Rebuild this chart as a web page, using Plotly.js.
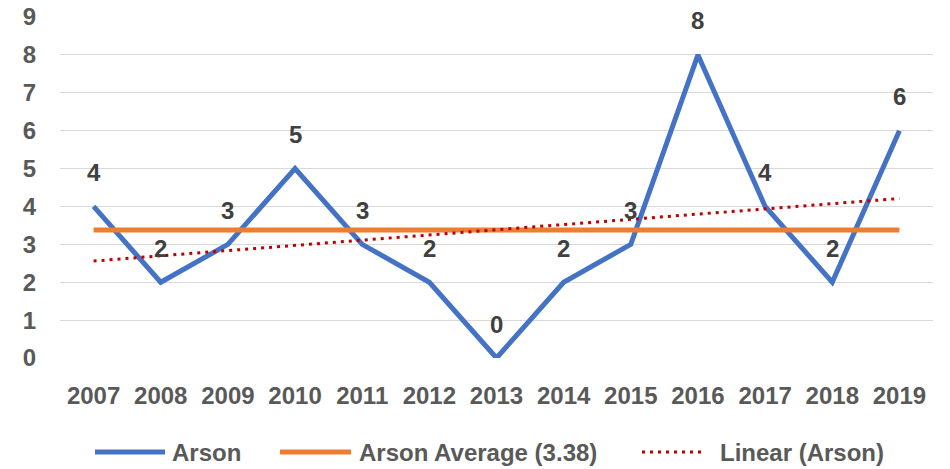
<!DOCTYPE html>
<html>
<head>
<meta charset="utf-8">
<script src="https://cdn.plot.ly/plotly-3.0.1.min.js"></script>
<style>html,body{margin:0;padding:0;background:#fff;}#chart{width:950px;height:469px;}</style>
</head>
<body>
<div id="chart"></div>
<script>
var years = ["2007","2008","2009","2010","2011","2012","2013","2014","2015","2016","2017","2018","2019"];
var arson = [4, 2, 3, 5, 3, 2, 0, 2, 3, 8, 4, 2, 6];
var averageValues = [3.38, 3.38, 3.38, 3.38, 3.38, 3.38, 3.38, 3.38, 3.38, 3.38, 3.38, 3.38, 3.38];
var trendYears = ["2007", "2019"];
var trendValues = [2.56, 4.21];
var yTicks = [0, 1, 2, 3, 4, 5, 6, 7, 8, 9];
var seriesNames = ["Arson", "Arson Average (3.38)", "Linear (Arson)"];

var FONT = "'Liberation Sans', Arial, sans-serif";
var TEXT_GREY = "#595959";
var labelFont = {family: FONT, size: 24, color: "#404040", weight: "bold"};
var axisFont = {family: FONT, size: 24, color: TEXT_GREY, weight: "bold"};

var seriesStyles = [
  {color: "#4472C4", width: 5, dash: "solid"},
  {color: "#ED7D31", width: 5, dash: "solid"},
  {color: "#C00000", width: 3, dash: "3px,5px"}
];

var traces = [
  {x: years, y: arson, type: "scatter", mode: "lines", name: seriesNames[0],
   line: seriesStyles[0], showlegend: false},
  {x: years, y: averageValues, type: "scatter", mode: "lines", name: seriesNames[1],
   line: seriesStyles[1], showlegend: false},
  {x: trendYears, y: trendValues, type: "scatter", mode: "lines", name: seriesNames[2],
   line: seriesStyles[2], showlegend: false}
];

// data labels (category axis annotations use category index)
var annotations = years.map(function (yr, i) {
  return {x: i, y: arson[i], xref: "x", yref: "y", text: String(arson[i]),
    showarrow: false, yshift: 34, font: labelFont};
});

// custom legend (pixel layout converted to paper coords)
var M = {l: 60, r: 17, t: 17, b: 111};
var plotW = 950 - M.l - M.r, plotH = 469 - M.t - M.b;
function px(xp) { return (xp - M.l) / plotW; }
function py(yp) { return (469 - M.b - yp) / plotH; }
var legendY = 452;
var legendSlots = [
  {x0: 95, x1: 165, tx: 170},
  {x0: 280, x1: 351, tx: 357},
  {x0: 642, x1: 704, tx: 718}
];
var shapes = [];
legendSlots.forEach(function (s, i) {
  shapes.push({type: "line", xref: "paper", yref: "paper",
    x0: px(s.x0), x1: px(s.x1), y0: py(legendY), y1: py(legendY),
    line: seriesStyles[i]});
  annotations.push({xref: "paper", yref: "paper", x: px(s.tx), y: py(legendY),
    xanchor: "left", yanchor: "middle", showarrow: false, text: seriesNames[i],
    font: axisFont});
});

var layout = {
  width: 950, height: 469,
  margin: M,
  paper_bgcolor: "#ffffff", plot_bgcolor: "#ffffff",
  font: axisFont,
  showlegend: false,
  xaxis: {type: "category", range: [-0.5, 12.5], showgrid: false, zeroline: false,
    showline: false, ticks: "outside", ticklen: 16, tickcolor: "rgba(0,0,0,0)",
    tickfont: axisFont, fixedrange: true},
  yaxis: {range: [0, 9], tickvals: yTicks, showgrid: true, gridcolor: "#D9D9D9", gridwidth: 1,
    zeroline: false, showline: false, ticks: "outside", ticklen: 18, tickcolor: "rgba(0,0,0,0)",
    tickfont: axisFont, fixedrange: true},
  shapes: shapes,
  annotations: annotations
};

Plotly.newPlot("chart", traces, layout, {displayModeBar: false, staticPlot: true});
</script>
</body>
</html>
